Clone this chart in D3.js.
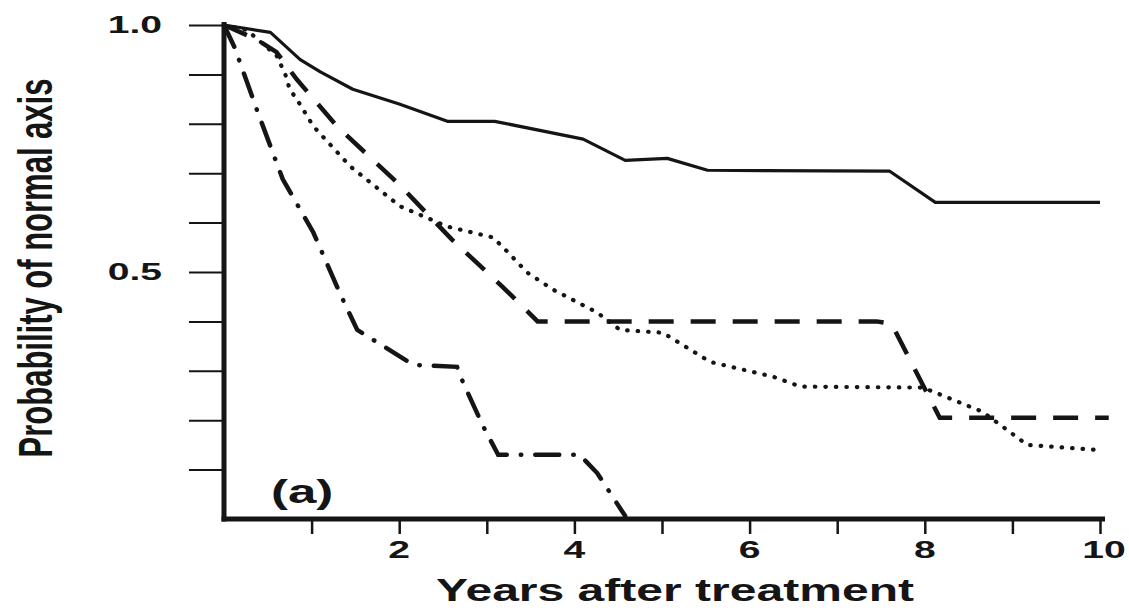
<!DOCTYPE html>
<html>
<head>
<meta charset="utf-8">
<script src="https://cdn.jsdelivr.net/npm/d3@7"></script>
<style>
  html, body { margin: 0; padding: 0; background: #fff; }
  svg { display: block; }
</style>
</head>
<body>
<svg id="chart" width="1129" height="610"></svg>
<script>
// ---------------- DATA ----------------
const solidCurve = [[0,1.0],[0.53,0.985],[0.87,0.93],[1.1,0.905],[1.47,0.87],[2.0,0.84],[2.55,0.805],[3.09,0.805],[4.1,0.769],[4.58,0.726],[5.06,0.73],[5.52,0.706],[7.6,0.704],[8.12,0.641],[10.0,0.641]];
const dashedCurve = [[0,1.0],[0.38,0.97],[0.6,0.945],[0.83,0.89],[1.29,0.795],[2.0,0.677],[2.6,0.566],[3.18,0.47],[3.58,0.40],[7.45,0.40],[7.62,0.395],[8.17,0.205],[10.1,0.205]];
const dottedCurve = [[0,1.0],[0.26,0.99],[0.6,0.938],[0.7,0.9],[0.75,0.87],[0.83,0.85],[1.02,0.795],[1.44,0.714],[2.01,0.633],[2.55,0.592],[3.07,0.57],[3.23,0.542],[3.46,0.499],[3.76,0.464],[4.26,0.418],[4.52,0.383],[5.01,0.377],[5.55,0.318],[6.27,0.288],[6.58,0.268],[7.98,0.266],[8.66,0.217],[9.17,0.15],[9.97,0.14]];
const dashDotCurve = [[0,1.0],[0.12,0.955],[0.38,0.826],[0.67,0.688],[1.02,0.58],[1.32,0.458],[1.52,0.383],[2.16,0.312],[2.66,0.308],[2.73,0.276],[2.96,0.187],[3.13,0.13],[4.06,0.13],[4.26,0.093],[4.58,0.006]];

const xTicks = [1,2,3,4,5,6,7,8,9,10];
const xTickLabels = [2,4,6,8,10];
const yTicks = [0.1,0.2,0.3,0.4,0.5,0.6,0.7,0.8,0.9,1.0];
const yTickLabels = [0.5,1.0];
const xTitle = "Years after treatment";
const yTitle = "Probability of normal axis";
const panelLabel = "(a)";

// ---------------- SCALES ----------------
const svg = d3.select("#chart");
const x = d3.scaleLinear().domain([0,10]).range([224,1100]);
const y = d3.scaleLinear().domain([0,1]).range([519,25]);
const ink = "#151515";
const font = "'Liberation Sans', Arial, Helvetica, sans-serif";

// ---------------- CURVES ----------------
const line = d3.line().x(d => x(d[0])).y(d => y(d[1])).curve(d3.curveLinear);
const curves = svg.append("g").attr("fill","none").attr("stroke",ink);
curves.append("path").datum(solidCurve).attr("d",line)
  .attr("stroke-width",3.2).attr("stroke-linejoin","round");
curves.append("path").datum(dashedCurve).attr("d",line)
  .attr("stroke-width",4.5).attr("stroke-dasharray","25,17");
curves.append("path").datum(dottedCurve).attr("d",line)
  .attr("stroke-width",4.2).attr("stroke-linecap","round").attr("stroke-dasharray","0.5,10");
curves.append("path").datum(dashDotCurve).attr("d",line)
  .attr("stroke-width",4.5).attr("stroke-linecap","round").attr("stroke-dasharray","24,14,0.5,14");

// ---------------- AXES ----------------
const yAxis = d3.axisLeft(y).tickValues(yTicks).tickSize(35).tickSizeOuter(0).tickFormat("");
const gy = svg.append("g").attr("transform",`translate(${x(0)},0)`).call(yAxis);
gy.select(".domain").remove();
gy.selectAll(".tick line").attr("stroke",ink).attr("stroke-width",2);

const xAxis = d3.axisBottom(x).tickValues(xTicks).tickSize(15).tickSizeOuter(0).tickFormat("");
const gx = svg.append("g").attr("transform",`translate(0,${y(0)})`).call(xAxis);
gx.select(".domain").remove();
gx.selectAll(".tick line").attr("stroke",ink).attr("stroke-width",2.5);

// axis lines
svg.append("line").attr("x1",x(0)).attr("x2",x(0)).attr("y1",y(1)-3).attr("y2",y(0)+2.5)
  .attr("stroke",ink).attr("stroke-width",5);
svg.append("line").attr("x1",x(0)-2.5).attr("x2",x(10)+5).attr("y1",y(0)).attr("y2",y(0))
  .attr("stroke",ink).attr("stroke-width",5);

// tick labels
svg.append("g").selectAll("text").data(yTickLabels).join("text")
  .attr("transform", d => `translate(162,${y(d)+8}) scale(1.7,1)`)
  .attr("text-anchor","end").attr("font-family",font).attr("font-weight","bold")
  .attr("font-size",23).attr("fill",ink).text(d => d.toFixed(1));

svg.append("g").selectAll("text").data(xTickLabels).join("text")
  .attr("transform", d => `translate(${x(d)+ (d===10?4:0)},558) scale(1.7,1)`)
  .attr("text-anchor","middle").attr("font-family",font).attr("font-weight","bold")
  .attr("font-size",23).attr("fill",ink).text(d => d);

// titles
svg.append("text").attr("transform","translate(675,601) scale(1.55,1)")
  .attr("text-anchor","middle").attr("font-family",font).attr("font-weight","bold")
  .attr("font-size",31).attr("fill",ink).text(xTitle);

svg.append("text").attr("transform","translate(52,268) scale(1.55,1) rotate(-90)")
  .attr("text-anchor","middle").attr("font-family",font).attr("font-weight","bold")
  .attr("font-size",31).attr("fill",ink).text(yTitle);

svg.append("text").attr("transform","translate(271,503) scale(1.5,1)")
  .attr("text-anchor","start").attr("font-family",font).attr("font-weight","bold")
  .attr("font-size",34).attr("fill",ink).text(panelLabel);
</script>
</body>
</html>
